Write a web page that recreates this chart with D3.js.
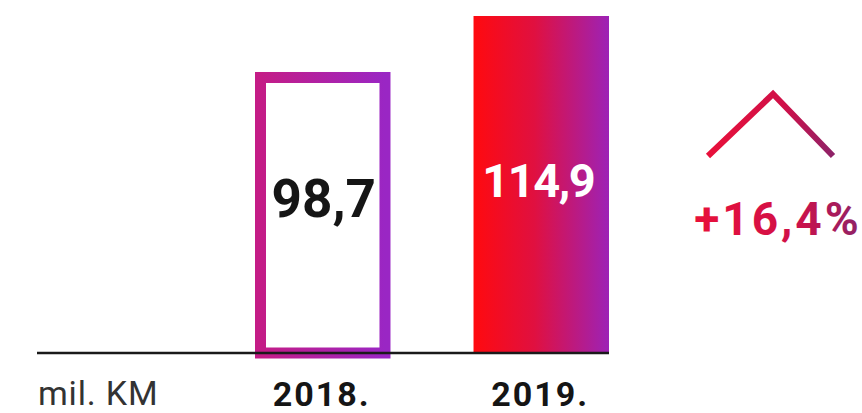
<!DOCTYPE html>
<html>
<head>
<meta charset="utf-8">
<script src="https://cdn.jsdelivr.net/npm/d3@7/dist/d3.min.js"></script>
<style>
  html, body { margin: 0; padding: 0; background: #ffffff; }
  svg { display: block; }
  text { font-family: Roboto, "Open Sans", sans-serif; }
</style>
</head>
<body>
<svg id="chart" width="862" height="413"></svg>
<script>
// Yearly totals, million KM
const years = ["2018.", "2019."];
const values = [98.7, 114.9];
const valueLabels = ["98,7", "114,9"];
const unitLabel = "mil. KM";
const changeLabel = "+16,4%";

const svg = d3.select("#chart");

const baseY = 353;
const x = d3.scaleBand().domain(years).range([255, 609]).paddingInner(0.38).paddingOuter(0);
const y = d3.scaleLinear().domain([17.4, 114.9]).range([baseY, 16]);

const defs = svg.append("defs");
const gFill = defs.append("linearGradient").attr("id", "barFill")
  .attr("x1", "0%").attr("x2", "100%").attr("y1", "0%").attr("y2", "0%");
gFill.append("stop").attr("offset", "0%").attr("stop-color", "#ff0a0f");
gFill.append("stop").attr("offset", "45%").attr("stop-color", "#e01040");
gFill.append("stop").attr("offset", "100%").attr("stop-color", "#9d22b6");

const gStroke = defs.append("linearGradient").attr("id", "barStroke")
  .attr("x1", "0%").attr("x2", "100%").attr("y1", "0%").attr("y2", "0%");
gStroke.append("stop").attr("offset", "0%").attr("stop-color", "#c41c86");
gStroke.append("stop").attr("offset", "100%").attr("stop-color", "#9a26c4");

const gText = defs.append("linearGradient").attr("id", "pctFill")
  .attr("x1", "0%").attr("x2", "100%").attr("y1", "0%").attr("y2", "0%");
gText.append("stop").attr("offset", "0%").attr("stop-color", "#e8103a");
gText.append("stop").attr("offset", "60%").attr("stop-color", "#d01048");
gText.append("stop").attr("offset", "100%").attr("stop-color", "#8e2268");

const sw = 11;

// 2018: outlined bar
const b0 = years[0];
svg.append("rect")
  .attr("x", x(b0) + sw / 2)
  .attr("y", y(values[0]) + sw / 2)
  .attr("width", x.bandwidth() - sw)
  .attr("height", baseY - y(values[0]) - sw / 2)
  .attr("fill", "#ffffff")
  .attr("stroke", "url(#barStroke)")
  .attr("stroke-width", sw);

// 2019: filled bar
const b1 = years[1];
svg.append("rect")
  .attr("x", x(b1))
  .attr("y", y(values[1]))
  .attr("width", x.bandwidth())
  .attr("height", baseY - y(values[1]))
  .attr("fill", "url(#barFill)");

// baseline
svg.append("line")
  .attr("x1", 37).attr("x2", x.range()[1])
  .attr("y1", baseY).attr("y2", baseY)
  .attr("stroke", "#1a1a1a").attr("stroke-width", 2.5);

// value labels
svg.append("text")
  .attr("x", x(b0) + x.bandwidth() / 2 + 1)
  .attr("y", 217)
  .attr("text-anchor", "middle")
  .attr("font-weight", 700).attr("font-size", 53)
  .attr("fill", "#151515")
  .text(valueLabels[0]);

svg.append("text")
  .attr("x", x(b1) + x.bandwidth() / 2 - 3)
  .attr("y", 197)
  .attr("text-anchor", "middle")
  .attr("font-weight", 700).attr("font-size", 47)
  .attr("letter-spacing", -1.5)
  .attr("fill", "#ffffff")
  .text(valueLabels[1]);

// year labels
svg.selectAll("text.year").data(years).enter().append("text")
  .attr("class", "year")
  .attr("x", d => x(d) + x.bandwidth() / 2 - 1)
  .attr("y", 406)
  .attr("text-anchor", "middle")
  .attr("font-weight", 700).attr("font-size", 34)
  .attr("letter-spacing", 2)
  .attr("fill", "#151515")
  .text(d => d);

// unit label
svg.append("text")
  .attr("x", 38).attr("y", 405)
  .attr("font-weight", 400).attr("font-size", 34)
  .attr("letter-spacing", 0.8)
  .attr("fill", "#333333")
  .text(unitLabel);

// growth chevron
svg.append("path")
  .attr("d", d3.line()([[708, 156], [773, 94], [833, 156]]))
  .attr("fill", "none")
  .attr("stroke", "url(#pctFill)")
  .attr("stroke-width", 6)
  .attr("stroke-linejoin", "miter");

svg.append("text")
  .attr("x", 778).attr("y", 235)
  .attr("text-anchor", "middle")
  .attr("font-weight", 700).attr("font-size", 46)
  .attr("letter-spacing", 3)
  .attr("fill", "url(#pctFill)")
  .text(changeLabel);
</script>
</body>
</html>
